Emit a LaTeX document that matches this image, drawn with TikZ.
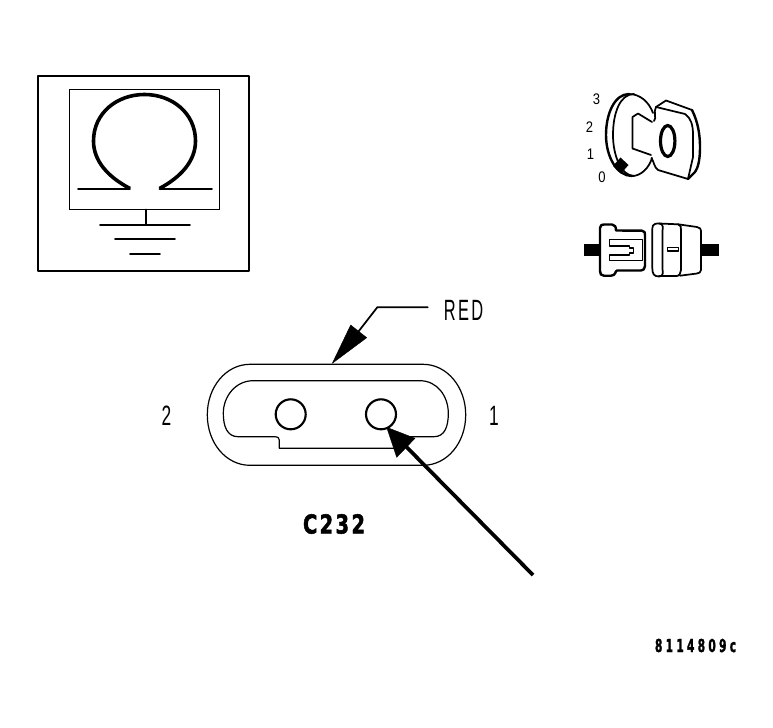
\documentclass[tikz,border=0pt]{standalone}
\usepackage{fontspec}
\setmainfont{Liberation Sans}
\newfontfamily\thinlabel[LetterSpace=14]{Liberation Sans}
\newfontfamily\heavylabel[LetterSpace=12,FakeBold=2]{DejaVu Sans Bold}
\newfontfamily\heavycode[LetterSpace=30,FakeBold=2]{DejaVu Sans Bold}
\tikzset{
  line/.style={draw=black,line width=1.3pt,line cap=round,line join=round},
  thinline/.style={draw=black,line width=0.9pt,line cap=round,line join=round},
  medline/.style={draw=black,line width=1.8pt,line cap=round,line join=round},
  heavyline/.style={draw=black,line width=2.8pt,line cap=butt},
  tiplabel/.style={inner sep=0pt,outer sep=0pt,text=black},
  solidhead/.style={fill=black,draw=black,line width=0.3pt,line join=round}
}
\begin{document}
\begin{tikzpicture}[x=0.75pt,y=-0.75pt]
\useasboundingbox (0,0) rectangle (773,727);
% ground symbol panel
\draw[line] (38,76) rectangle (249,271);
\node[draw=black,line width=1.3pt,inner sep=0pt,outer sep=0pt,minimum width=112.5pt,minimum height=90pt,anchor=north west] (panel) at (69.6,89.6) {};
\draw[line] (78,188.7) -- (130,188.7);
\draw[line] (159.5,189.3) -- (212,189.3);
\draw[draw=black,line width=2.7pt,line join=round]
  (130,188.5) .. controls (108,177) and (93.5,161) .. (93.5,141)
  .. controls (93.5,113) and (117,94.5) .. (144.5,94.5)
  .. controls (172,94.5) and (195.5,113) .. (195.5,141)
  .. controls (195.5,161) and (181,177) .. (159.5,188.5);
\coordinate (gnd) at (panel.south -| 145.7,0);
\coordinate (gndend) at (145.7,224.7);
\draw[line] (gnd) -- (gndend);
\draw[line] (100,224.7) -- (190,224.7);
\draw[line] (115,238.7) -- (175,238.7);
\draw[line] (130,253.7) -- (160,253.7);
% key
\node[tiplabel] (k3) at (596.5,99.5) {\fontsize{11.5}{12}\selectfont\scalebox{.85}[1]{3}};
\node[tiplabel] (k2) at (589.5,127) {\fontsize{11.5}{12}\selectfont\scalebox{.85}[1]{2}};
\node[tiplabel] (k1) at (590.5,154.5) {\fontsize{11.5}{12}\selectfont\scalebox{.85}[1]{1}};
\node[tiplabel] (k0) at (602,177) {\fontsize{11.5}{12}\selectfont\scalebox{.85}[1]{0}};
\draw[medline] (629,94) .. controls (615,94) and (606,113) .. (606,135)
  .. controls (606,157) and (617,176) .. (632,176);
\draw[line] (634,94) .. controls (620,94) and (613,113) .. (613,135)
  .. controls (613,157) and (622,176) .. (634,176);
\draw[line] (629,94) .. controls (640,94) and (649,102) .. (653,113);
\draw[line] (632,176) .. controls (641,176) and (649,168) .. (652,158);
\draw[line] (652,122) -- (638,113.5) -- (632.5,117) -- (632.5,148.5) -- (651,155);
\draw[line] (654,121) .. controls (657,118) and (653,112) .. (656,107)
  -- (666,100.5) -- (692,110);
\draw[line] (656,107) -- (685,114) .. controls (691,118) and (693,125) .. (693,135)
  -- (693,157) -- (688,179) -- (658,170) .. controls (654,167) and (654,162) .. (651.5,158);
\draw[medline] (692,110) .. controls (698,122) and (700,135) .. (700,147)
  .. controls (700,160) and (698,168) .. (695,172) -- (688,179);
\draw[draw=black,line width=2.4pt] (667.7,141) ellipse [x radius=7.2,y radius=15.5];
\fill[black] (620.5,157.5) -- (628.5,165) -- (621,173.5) -- (613,166) -- cycle;
% connector icon
\fill[black] (584,244) rectangle (600,255.7);
\fill[black] (701.7,244) rectangle (719,255.7);
\draw[fill=white,medline] (600,228) .. controls (600,225) and (602,224.5) .. (604,224.5)
  -- (612,224.5) .. controls (615,224.5) and (616,227) .. (616,230.5)
  -- (642,230.7) .. controls (645,231) and (645,233) .. (645,235)
  -- (645,266) .. controls (645,269) and (643,270.5) .. (641,270.5)
  -- (617,270.5) .. controls (615,271) and (616,275.5) .. (611,275.7)
  -- (604,275.7) .. controls (601,275.7) and (600,274) .. (600,271) -- cycle;
\draw[line] (609.5,239.5) -- (642.5,239.5) -- (642.5,260.5) -- (609.5,260.5)
  -- (609.5,255) -- (629.5,255) -- (629.5,253.3) -- (633.5,253.3)
  -- (633.5,248.3) -- (629.5,248.3) -- (629.5,245.7) -- (609.5,245.7) -- cycle;
\draw[line] (659,223.5) -- (678,224.3) .. controls (681,225) and (681,227) .. (681,230)
  -- (681,270) .. controls (681,273) and (679,276) .. (677,276) -- (659,276);
\draw[line] (678,224.3) -- (697,227) .. controls (700,227.5) and (701,229) .. (701,231)
  -- (701,270) .. controls (701,272) and (699,273.5) .. (697,273.5) -- (680,275.7);
\draw[line] (659,223.5) .. controls (652,223.5) and (652.3,226) .. (652.3,232)
  -- (652.3,268) .. controls (652.3,274) and (654,276.5) .. (659,276.5)
  .. controls (664,276.5) and (662.5,272) .. (662.5,268)
  -- (662.5,232) .. controls (662.5,228) and (664,223.5) .. (659,223.5);
\draw[line] (667.5,247.5) rectangle (678.5,251.3);
% main connector
\draw[thinline] (250,364.3) -- (423,364.3)
  .. controls (447,364.3) and (465.7,387) .. (465.7,414.8)
  .. controls (465.7,443) and (447,465.3) .. (423,465.3)
  -- (250,465.3)
  .. controls (226,465.3) and (207.3,443) .. (207.3,414.8)
  .. controls (207.3,387) and (226,364.3) .. (250,364.3) -- cycle;
\draw[thinline] (253,380.7) -- (420,380.7)
  .. controls (437,380.7) and (448.3,396) .. (448.3,413.3)
  .. controls (448.3,426) and (445,436.7) .. (434,436.7)
  -- (402,436.7) -- (402,448.3) -- (279.3,448.3) -- (279.3,440)
  .. controls (279.3,437.5) and (277.5,436.7) .. (275,436.7)
  -- (238,436.7)
  .. controls (227,436.7) and (223.3,426) .. (223.3,413.3)
  .. controls (223.3,396) and (236,380.7) .. (253,380.7) -- cycle;
\node[circle,draw=black,line width=1.6pt,minimum size=22.5pt,inner sep=0pt] (pin2) at (290.7,414.3) {};
\node[circle,draw=black,line width=1.6pt,minimum size=22.5pt,inner sep=0pt] (pin1) at (381,414.3) {};
\node[tiplabel] (lab2) at (166.5,416) {\fontsize{21}{24}\selectfont\scalebox{.62}[1]{2}};
\node[tiplabel] (lab1) at (494,416) {\fontsize{21}{24}\selectfont\scalebox{.62}[1]{1}};
% RED leader
\node[tiplabel] (red) at (463.5,310) {\fontsize{22}{26}\selectfont\scalebox{.56}[1]{\thinlabel RED}};
\coordinate (redbend) at (377.3,307.3);
\coordinate (redtip) at (332.3,363.3);
\draw[line] (427.7,307.3) -- (redbend) -- (358.3,331.7);
\fill[solidhead] (redtip) -- (350.7,325) -- (366.7,337.7) -- cycle;
% pin arrow
\coordinate (pintip) at (386.7,427.3);
\coordinate (pintail) at (533,575);
\draw[heavyline] (pintail) -- (406,446.5);
\fill[solidhead] (pintip) -- (415,438.3) -- (396.7,457.3) -- cycle;
% captions
\node[tiplabel] (cid) at (334,524) {\fontsize{19.5}{24}\selectfont\scalebox{.75}[1]{\heavylabel C232}};
\node[tiplabel] (code) at (695.5,645.5) {\fontsize{13.4}{16}\selectfont\scalebox{.6}[1]{\heavycode 8114809c}};
\end{tikzpicture}
\end{document}
